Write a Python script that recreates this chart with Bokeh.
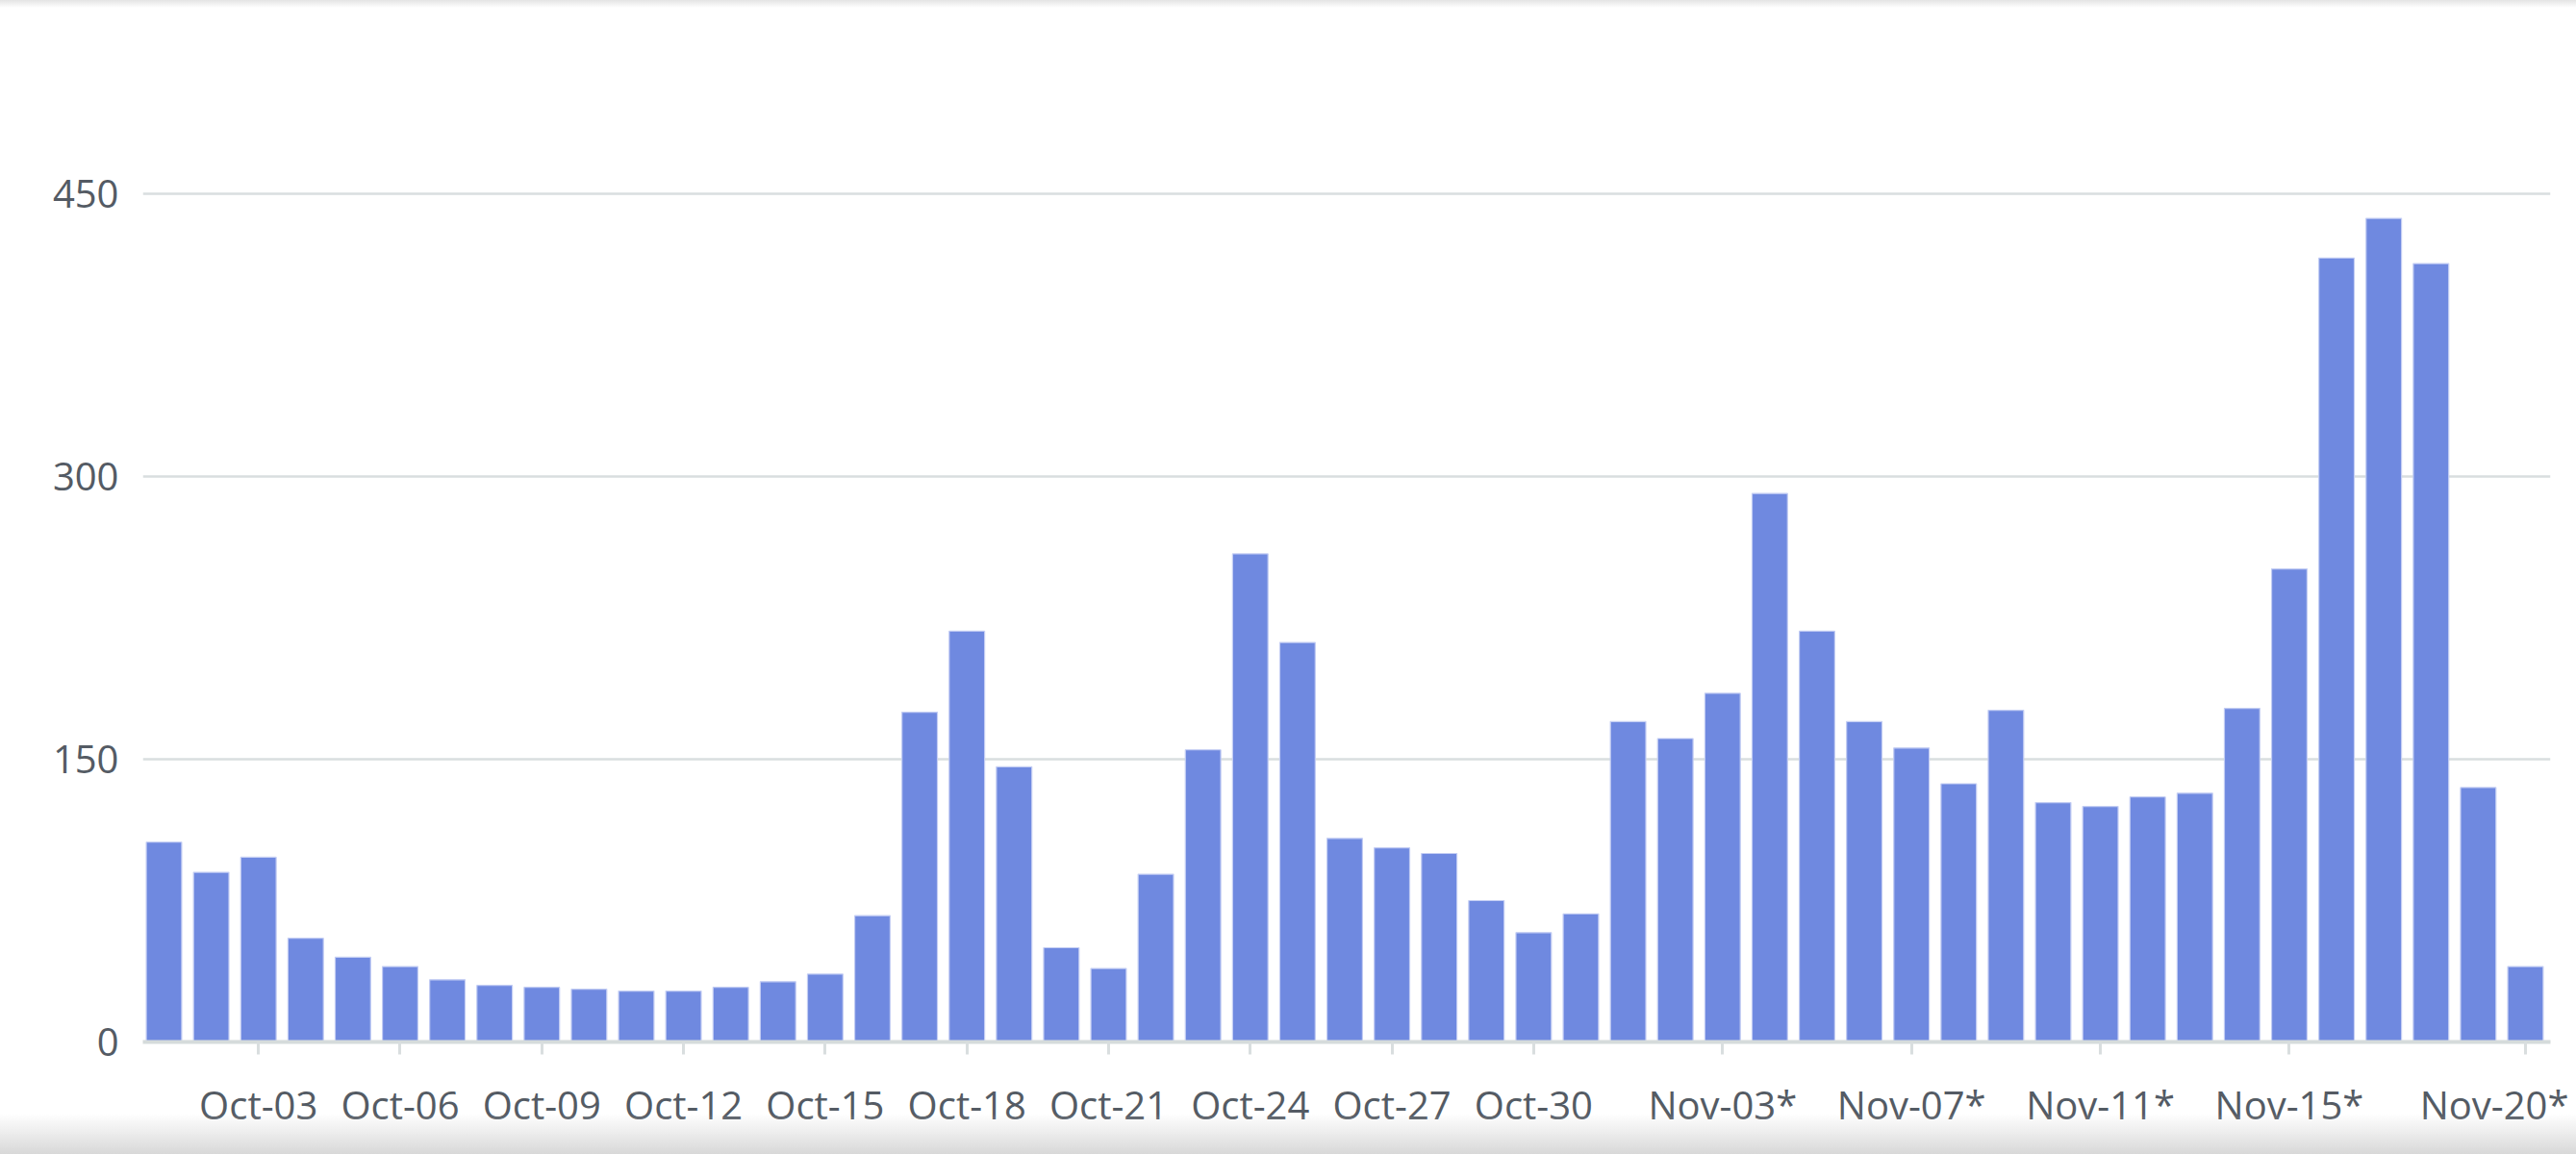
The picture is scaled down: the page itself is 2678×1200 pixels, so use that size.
from bokeh.plotting import figure
from bokeh.models import Range1d, FixedTicker
from bokeh.embed import file_html
from bokeh.resources import INLINE

# ---- data ----
dates = (["Oct-%02d" % d for d in range(1, 32)] +
         ["Nov-%02d" % d for d in range(1, 21)])
counts = [106, 90, 98, 55, 45, 40, 33, 30, 29, 28, 27, 27, 29, 32, 36, 67,
          175, 218, 146, 50, 39, 89, 155, 259, 212, 108, 103, 100, 75, 58, 68,
          170, 161, 185, 291, 218, 170, 156, 137, 176, 127, 125, 130, 132,
          177, 251, 416, 437, 413, 135, 40]
tick_labels = ["Oct-03", "Oct-06", "Oct-09", "Oct-12", "Oct-15", "Oct-18",
               "Oct-21", "Oct-24", "Oct-27", "Oct-30", "Nov-03*", "Nov-07*",
               "Nov-11*", "Nov-15*", "Nov-20*"]
y_ticks = [0, 150, 300, 450]

xs = list(range(len(dates)))
tick_pos = [dates.index(t.rstrip("*")) for t in tick_labels]

FONT = "Open Sans"
TXT = "#545b64"
GRID = "#d9dedf"

p = figure(width=2670, height=1192, output_backend="svg", toolbar_location=None,
           x_range=Range1d(-0.448, len(dates) - 1 + 0.53),
           y_range=Range1d(0, 522))
p.min_border_left = 148
p.min_border_right = 19
p.min_border_top = 60
p.min_border_bottom = 109
p.outline_line_color = None
p.background_fill_color = "white"
p.border_fill_color = "white"

p.vbar(x=xs, top=counts, width=0.75, bottom=0,
       fill_color="#6f89e0", line_color="#c3cdf3", line_width=1.2)

# x axis
xa = p.xaxis[0]
xa.ticker = FixedTicker(ticks=tick_pos)
xa.major_label_overrides = {i: t for i, t in zip(tick_pos, tick_labels)}
xa.minor_tick_line_color = None
xa.major_tick_in = 0
xa.major_tick_out = 13
xa.major_tick_line_color = GRID
xa.major_tick_line_width = 3
xa.axis_line_color = "#d5dbdb"
xa.axis_line_width = 4
xa.major_label_text_font = FONT
xa.major_label_text_font_size = "40px"
xa.major_label_text_color = TXT
xa.major_label_standoff = 24

# y axis
ya = p.yaxis[0]
ya.ticker = FixedTicker(ticks=y_ticks)
ya.axis_line_color = None
ya.major_tick_line_color = None
ya.minor_tick_line_color = None
ya.major_tick_out = 0
ya.major_tick_in = 0
ya.major_label_text_font = FONT
ya.major_label_text_font_size = "40px"
ya.major_label_text_color = TXT
ya.major_label_standoff = 25

p.xgrid.grid_line_color = None
p.ygrid.ticker = FixedTicker(ticks=y_ticks)
p.ygrid.grid_line_color = GRID
p.ygrid.grid_line_width = 2.5

html = file_html(p, INLINE)
css = """<style>
body::before{content:"";position:fixed;left:0;right:0;top:0;height:8px;
 background:linear-gradient(to bottom,rgba(228,228,228,1),rgba(255,255,255,0));
 pointer-events:none;z-index:10;}
body::after{content:"";position:fixed;left:0;right:0;bottom:0;height:42px;
 background:linear-gradient(to bottom,rgba(230,230,230,0),rgba(216,216,216,1));
 pointer-events:none;z-index:10;}
</style></head>"""
html = html.replace("</head>", css, 1)
open("out.html", "w").write(html)
